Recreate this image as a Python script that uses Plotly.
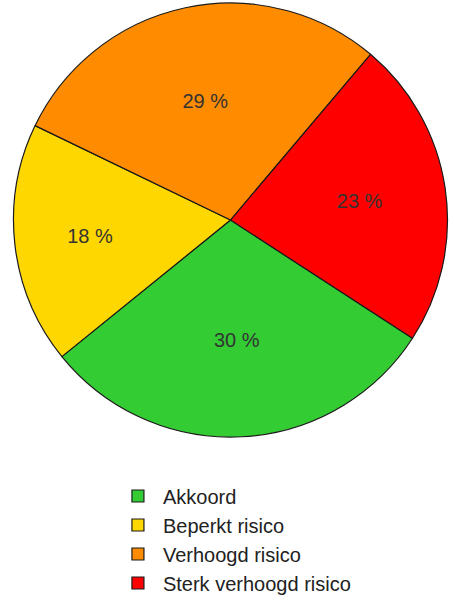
import plotly.graph_objects as go

labels = ["Akkoord", "Beperkt risico", "Verhoogd risico", "Sterk verhoogd risico"]
values = [30, 18, 29, 23]
colors = ["#33CC33", "#FFD700", "#FF8C00", "#FF0000"]

fig = go.Figure(go.Pie(
    labels=labels,
    values=values,
    sort=False,
    direction="clockwise",
    rotation=123,
    marker=dict(colors=colors, line=dict(color="#1a1a1a", width=1.2)),
    texttemplate="%{value} %",
    textposition="inside",
    insidetextorientation="horizontal",
    textfont=dict(family="Liberation Sans, Arial", size=20, color="#333333"),
    domain=dict(x=[0, 1], y=[0.28, 0.995]),
    hoverinfo="label+percent",
))

fig.update_layout(
    width=461, height=607,
    margin=dict(l=0, r=0, t=0, b=0),
    paper_bgcolor="white",
    plot_bgcolor="white",
    showlegend=True,
    legend=dict(
        x=0.245, y=0.215, xanchor="left", yanchor="top",
        font=dict(family="Liberation Sans, Arial", size=20, color="#222222"),
        itemwidth=40,
        traceorder="normal",
    ),
)

fig.write_html("out.html")
